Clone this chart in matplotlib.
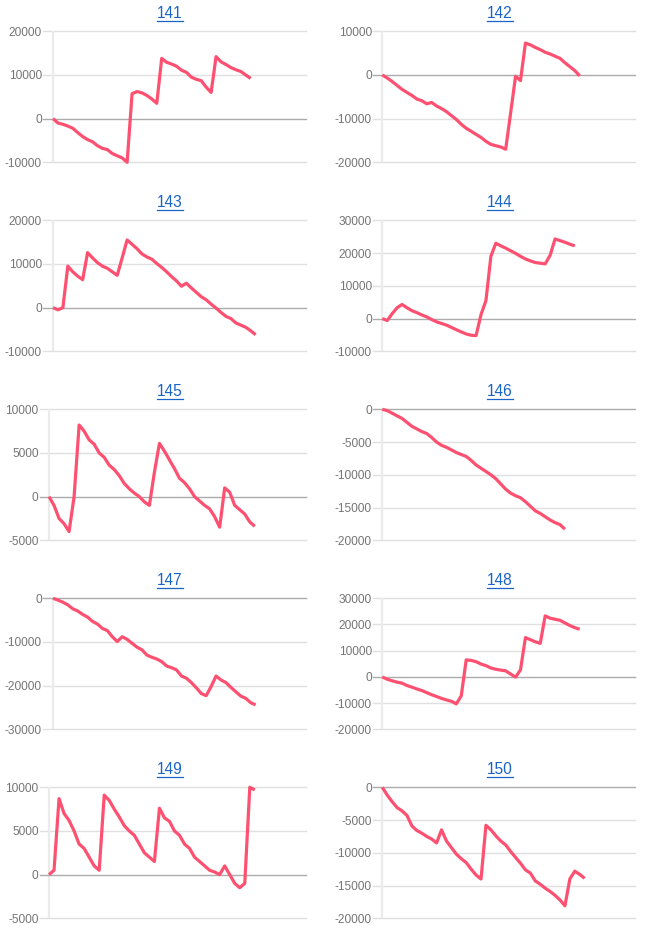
import matplotlib
matplotlib.use("Agg")
import matplotlib.pyplot as plt
from matplotlib.lines import Line2D

plt.rcParams['font.family'] = ['Liberation Sans', 'DejaVu Sans']

# ---------------- data ----------------
titles = ["141", "142", "143", "144", "145", "146", "147", "148", "149", "150"]

s141 = [0, -1000, -1300, -1700, -2200, -3200, -4100, -4800, -5300, -6200, -6800,
        -7100, -8000, -8500, -9000, -10000, 5700, 6200, 5900, 5300, 4500, 3500,
        13800, 12900, 12500, 12000, 11100, 10600, 9500, 9000, 8700, 7200, 6000,
        14200, 13000, 12400, 11700, 11200, 10800, 10000, 9200]
s142 = [0, -700, -1500, -2400, -3300, -4000, -4700, -5500, -5900, -6600, -6300,
        -7100, -7700, -8400, -9300, -10200, -11300, -12200, -12900, -13600, -14300,
        -15200, -15900, -16200, -16500, -17000, -8700, -300, -1300, 7300, 6900,
        6300, 5800, 5200, 4800, 4300, 3800, 2800, 1900, 1000, -200]
s143 = [0, -500, 0, 9500, 8200, 7200, 6400, 12600, 11400, 10300, 9500, 9000, 8200,
        7400, 11400, 15500, 14500, 13500, 12300, 11600, 11100, 10100, 9200, 8200,
        7100, 6100, 4900, 5600, 4500, 3500, 2500, 1800, 800, -100, -1100, -2000,
        -2500, -3500, -4000, -4500, -5300, -6200]
s144 = [0, -600, 1500, 3300, 4300, 3300, 2400, 1800, 1100, 500, -300, -1000, -1500,
        -2000, -2700, -3400, -4100, -4700, -5100, -5200, 1200, 5500, 19000, 23000,
        22200, 21500, 20700, 19900, 19000, 18200, 17600, 17100, 16900, 16700, 19300,
        24300, 23800, 23300, 22700, 22200]
s145 = [0, -1000, -2500, -3100, -4000, 0, 8200, 7500, 6500, 6000, 5000, 4500, 3600,
        3100, 2400, 1500, 900, 400, 0, -600, -1000, 2800, 6100, 5200, 4200, 3200,
        2100, 1600, 900, 0, -500, -1000, -1400, -2300, -3500, 1000, 500, -1000,
        -1500, -2000, -2900, -3400]
s146 = [0, -200, -600, -1000, -1400, -2000, -2600, -3000, -3400, -3700, -4300,
        -5000, -5500, -5800, -6200, -6600, -6900, -7200, -7800, -8500, -9000, -9500,
        -10000, -10600, -11400, -12200, -12800, -13200, -13500, -14100, -14800,
        -15500, -15900, -16400, -16900, -17300, -17600, -18300]
s147 = [0, -400, -900, -1500, -2400, -2900, -3700, -4300, -5300, -5900, -6900,
        -7400, -8800, -9900, -8800, -9400, -10300, -11200, -11800, -13000, -13500,
        -13900, -14500, -15500, -15900, -16400, -17800, -18300, -19300, -20500,
        -21800, -22300, -20200, -17800, -18700, -19300, -20400, -21400, -22400,
        -22900, -23900, -24400]
s148 = [0, -900, -1500, -2000, -2400, -3300, -3900, -4600, -5200, -6000, -6800,
        -7500, -8200, -8800, -9300, -10300, -7200, 6500, 6300, 5800, 4900, 4300,
        3400, 2900, 2600, 2300, 1100, -100, 2700, 15000, 14200, 13400, 12800, 23300,
        22400, 22000, 21600, 20600, 19600, 18800, 18200]
s149 = [0, 500, 8700, 7000, 6200, 5000, 3500, 3000, 2000, 1000, 500, 9100, 8500,
        7500, 6600, 5600, 5000, 4500, 3500, 2500, 2000, 1500, 7600, 6500, 6100, 5000,
        4500, 3500, 3000, 2000, 1500, 1000, 500, 300, 0, 1000, 0, -1000, -1500,
        -1000, 10000, 9700]
s150 = [0, -1200, -2200, -3100, -3600, -4300, -5900, -6600, -7000, -7500, -7900,
        -8500, -6500, -8200, -9200, -10200, -10900, -11500, -12500, -13400, -14000,
        -5800, -6500, -7400, -8200, -8800, -9800, -10700, -11600, -12600, -13100,
        -14300, -14800, -15400, -15900, -16500, -17200, -18100, -14000, -12800,
        -13300, -13900]
series = [s141, s142, s143, s144, s145, s146, s147, s148, s149, s150]

yticks = [
    [-10000, 0, 10000, 20000],
    [-20000, -10000, 0, 10000],
    [-10000, 0, 10000, 20000],
    [-10000, 0, 10000, 20000, 30000],
    [-5000, 0, 5000, 10000],
    [-20000, -15000, -10000, -5000, 0],
    [-30000, -20000, -10000, 0],
    [-20000, -10000, 0, 10000, 20000, 30000],
    [-5000, 0, 5000, 10000],
    [-20000, -15000, -10000, -5000, 0],
]

# ---------------- layout (pixels) ----------------
W, H = 645, 932
X_MAX = 51.2
LINE_COLOR = '#fe5071'
TITLE_COLOR = '#1a64c8'

fig = plt.figure(figsize=(W / 100, H / 100), dpi=100)

tops = [31.3, 220.3, 409.3, 598.3, 787.3]
plot_h = 131
left_grid = [43.3, 43.3, 40.0, 43.3, 40.0]
left_v = [53, 53, 49, 53, 49]
right_grid, right_v = 373.3, 382.3
right_edge = [306, 635]
title_x = [170, 500]

title_texts = []
for i, (name, data, ticks) in enumerate(zip(titles, series, yticks)):
    row, col = divmod(i, 2)
    if col == 0:
        gl, vl = left_grid[row], left_v[row]
    else:
        gl, vl = right_grid, right_v
    r = right_edge[col]
    top = tops[row]
    ax = fig.add_axes([gl / W, 1 - (top + plot_h) / H, (r - gl) / W, plot_h / H])
    s = (r - vl) / X_MAX
    ax.set_xlim(-(vl - gl) / s, X_MAX)
    ax.set_ylim(ticks[0], ticks[-1])
    for sp in ax.spines.values():
        sp.set_visible(False)
    ax.set_xticks([])
    ax.set_yticks(ticks)
    ax.set_yticklabels([str(t) for t in ticks])
    ax.tick_params(axis='y', length=0, pad=1.0, labelsize=8.6, labelcolor='#757575')
    for t in ticks:
        if t == 0:
            ax.axhline(t, color='#ababab', lw=1.0, zorder=2, clip_on=False)
        else:
            ax.axhline(t, color='#e0e0e0', lw=1.0, zorder=1, clip_on=False)
    ax.axvline(0, color='#ebebeb', lw=1.6, zorder=1.5)
    ax.plot(range(len(data)), data, color=LINE_COLOR, lw=2.3,
            solid_joinstyle='round', solid_capstyle='butt', zorder=3, clip_on=False)

    tx = fig.text(title_x[col] / W, 1 - (top - 13.6) / H, name, ha='center',
                  va='baseline', fontsize=11.2, color=TITLE_COLOR)
    title_texts.append(tx)

# underline the titles (they look like links)
fig.canvas.draw()
renderer = fig.canvas.get_renderer()
inv = fig.transFigure.inverted()
for tx in title_texts:
    bb = tx.get_window_extent(renderer)
    y_px = bb.y0 - 0.5
    (x0, y0), (x1, _) = inv.transform([(bb.x0, y_px), (bb.x1, y_px)])
    fig.add_artist(Line2D([x0, x1], [y0, y0], transform=fig.transFigure,
                          color=TITLE_COLOR, lw=0.9))

fig.savefig('out.png', dpi=100)
